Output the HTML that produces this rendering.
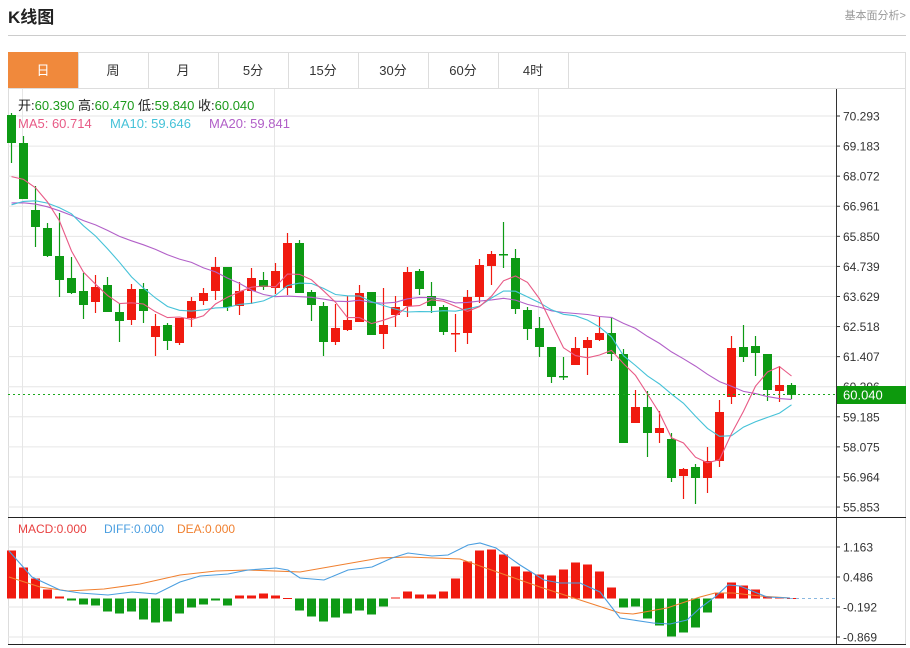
<!DOCTYPE html>
<html><head><meta charset="utf-8"><style>
html,body{margin:0;padding:0;background:#fff;width:910px;height:648px;overflow:hidden;font-family:"Liberation Sans","Noto Sans CJK SC",sans-serif;}
svg{position:absolute;left:0;top:0}
</style></head><body>
<svg id="s" width="910" height="648" xmlns="http://www.w3.org/2000/svg" font-family="Liberation Sans, Noto Sans CJK SC, sans-serif">
<text x="8" y="23" font-size="17" font-weight="bold" fill="#222">K线图</text>
<text x="906" y="19" font-size="11" fill="#999" text-anchor="end">基本面分析&gt;</text>
<line x1="8" y1="35.5" x2="906" y2="35.5" stroke="#ccc"/>
<rect x="8.5" y="52.5" width="897" height="592" fill="none" stroke="#ddd"/>
<rect x="8" y="52" width="70" height="36" fill="#f0893c"/>
<g id="tabs"></g>
<line x1="8" y1="88.5" x2="906" y2="88.5" stroke="#ddd"/>
<g id="g"></g>
</svg>
<script>
var NS="http://www.w3.org/2000/svg",G=document.getElementById('g'),T=document.getElementById('tabs');
function el(p,n,a,t){var e=document.createElementNS(NS,n);for(var k in a)e.setAttribute(k,a[k]);if(t!=null)e.textContent=t;p.appendChild(e);return e;}
var tabs=["日","周","月","5分","15分","30分","60分","4时"];
tabs.forEach(function(t,i){var x=8+70*i;el(T,'text',{x:x+35,y:75,'font-size':13,'text-anchor':'middle',fill:i?'#333':'#fff'},t);el(T,'line',{x1:x+70.5,y1:52,x2:x+70.5,y2:88,stroke:'#ddd'});});
// grids
var pl=["70.293","69.183","68.072","66.961","65.850","64.739","63.629","62.518","61.407","60.296","59.185","58.075","56.964","55.853"];
pl.forEach(function(l,i){var y=116+30.08*i;el(G,'line',{x1:8,y1:y,x2:836,y2:y,stroke:'#e6e6e6'});el(G,'line',{x1:836,y1:y,x2:840,y2:y,stroke:'#333'});el(G,'text',{x:843,y:y+4.5,'font-size':12,fill:'#333'},l);});
var ml=[["1.163",547],["0.486",577],["-0.192",607],["-0.869",637]];
ml.forEach(function(m){el(G,'line',{x1:8,y1:m[1],x2:836,y2:m[1],stroke:'#e6e6e6'});el(G,'line',{x1:836,y1:m[1],x2:840,y2:m[1],stroke:'#333'});el(G,'text',{x:843,y:m[1]+4.5,'font-size':12,fill:'#333'},m[0]);});
[22,274,538].forEach(function(x){el(G,'line',{x1:x+.5,y1:89,x2:x+.5,y2:645,stroke:'#e6e6e6'});});
// candles [type,o,c,h,l] in pixel y: g => top=open,bottom=close
var C=[
['g',115,143,113,163],['g',143,199,136,199],['g',210,227,186,247],['g',228,256,223,257],['g',256,280,213,297],['g',278,293,257,294],['g',291,305,273,319],['r',302,287,275,313],['g',285,312,277,312],['g',312,321,303,342],
['r',320,289,284,325],['g',289,311,283,323],['r',337,326,314,356],['g',325,341,323,350],['r',343,318,318,345],['r',318,301,297,327],['r',301,293,288,305],['r',291,267,257,300],['g',267,307,267,311],['r',306,291,282,315],
['r',291,278,268,304],['g',280,287,272,290],['r',288,271,263,294],['r',288,243,233,295],['g',243,293,240,293],['g',292,305,290,321],['g',306,342,302,356],['r',342,328,304,345],['r',330,320,296,331],['r',322,293,285,322],
['g',292,335,292,335],['r',334,325,288,349],['r',315,307,296,327],['r',306,272,267,317],['g',271,289,269,295],['g',296,306,282,313],['g',307,332,305,335],['r',334,333,314,352],['r',333,297,290,344],['r',297,265,259,303],
['r',266,254,251,285],['g',254,255,222,268],['g',258,309,249,314],['g',310,329,307,340],['g',328,347,317,357],['g',347,377,347,383],['g',376,377,357,380],['r',365,348,337,365],['r',348,340,337,375],['r',340,333,317,341],
['g',333,354,317,361],['g',354,443,349,443],['r',423,407,390,423],['g',407,433,391,457],['r',433,428,411,443],['g',439,478,433,482],['r',476,469,468,499],['g',467,478,464,504],['r',478,461,447,493],['r',461,412,400,467],
['r',397,348,336,404],['g',347,357,325,362],['g',346,353,336,376],['g',354,390,354,401],['r',391,385,366,402],['g',385,395,383,399]];
var RED='#f01a0f',GRN='#0d9a14';
function cx(i){return 11.5+12*i;}
C.forEach(function(c,i){var x=cx(i),col=c[0]=='r'?RED:GRN,t=Math.min(c[1],c[2]),b=Math.max(c[1],c[2]);
el(G,'line',{x1:x,y1:c[3],x2:x,y2:c[4],stroke:col,'stroke-width':1.2});
el(G,'rect',{x:x-4.5,y:t,width:9,height:Math.max(b-t,1.5),fill:col});});
// MAs
var cl=C.map(function(c){return c[2];});
var pad=[];for(var k=0;k<10;k++)pad.push(201);for(k=0;k<5;k++)pad.push(233);for(k=0;k<4;k++)pad.push(185);
var all=pad.concat(cl);
function ma(n,col){var pts=[];for(var i=0;i<C.length;i++){var s=0;for(var j=0;j<n;j++)s+=all[19+i-j];pts.push(cx(i)+','+(s/n).toFixed(1));}
el(G,'polyline',{points:pts.join(' '),fill:'none',stroke:col,'stroke-width':1.1});}
ma(20,'#b260c8');ma(10,'#45c2d8');ma(5,'#e85a86');
// current price line
el(G,'line',{x1:8,y1:394.5,x2:836,y2:394.5,stroke:'#1aa81a','stroke-dasharray':'2,3'});
el(G,'rect',{x:837,y:386,width:69,height:18,fill:'#0d9a0d'});
el(G,'text',{x:843,y:399.5,'font-size':13,fill:'#fff'},'60.040');
// MACD bars
var M=[48,31,20,9,2,-2,-6,-7,-13,-15,-13,-21,-24,-23,-15,-9,-6,-2,-7,3,3,5,3,0,-12,-18,-23,-19,-15,-12,-16,-8,1,7,4,4,7,20,37,48,49,44,32,27,24,23,29,36,34,27,11,-9,-8,-20,-27,-38,-34,-29,-14,5,16,13,9,2,1,0.5];
var Z=598.5;
M.forEach(function(v,i){var x=cx(i);if(Math.abs(v)<0.8){el(G,'line',{x1:x-4.5,y1:Z,x2:x+4.5,y2:Z,stroke:v>=0?RED:GRN});return;}
el(G,'rect',{x:x-4.5,y:v>0?Z-v:Z,width:9,height:Math.abs(v),fill:v>0?RED:GRN});});
el(G,'line',{x1:790,y1:Z,x2:836,y2:Z,stroke:'#8ab8e0','stroke-dasharray':'3,3'});
var D=[[9,551],[32,577],[60,590],[80,593],[108,595],[132,592],[156,594],[180,582],[200,576],[228,574],[248,570],[276,568],[288,570],[300,578],[324,580],[348,570],[372,567],[392,558],[408,553],[432,556],[448,555],[468,545],[480,543],[496,548],[520,565],[544,580],[560,583],[580,583],[600,592],[620,618],[633,620],[653,623],[670,624],[687,620],[700,608],[715,597],[728,585],[740,586],[757,593],[767,597],[790,598]];
var E=[[9,577],[40,587],[68,591],[104,589],[140,584],[180,575],[216,571],[248,570],[300,572],[340,565],[380,558],[408,557],[460,559],[500,573],[540,587],[580,600],[620,613],[633,614],[667,608],[700,597],[715,593],[733,593],[760,596],[790,598]];
el(G,'polyline',{points:E.join(' '),fill:'none',stroke:'#f08030','stroke-width':1.1});
el(G,'polyline',{points:D.join(' '),fill:'none',stroke:'#4a9ee0','stroke-width':1.1});
// frames
el(G,'line',{x1:836.5,y1:89,x2:836.5,y2:645,stroke:'#333'});
el(G,'line',{x1:8,y1:517.5,x2:906,y2:517.5,stroke:'#222'});
el(G,'line',{x1:8,y1:644.5,x2:906,y2:644.5,stroke:'#222'});
// legend
var lg=el(G,'text',{x:18,y:110,'font-size':13});
[['开:','#222'],['60.390  ','#1a9a1a'],[' 高:','#222'],['60.470  ','#1a9a1a'],[' 低:','#222'],['59.840  ','#1a9a1a'],[' 收:','#222'],['60.040','#1a9a1a']].forEach(function(p){el(lg,'tspan',{fill:p[1]},p[0]);});
lg.setAttribute('xml:space','preserve');
el(G,'text',{x:18,y:128,'font-size':13,fill:'#e85a86'},'MA5: 60.714');
el(G,'text',{x:110,y:128,'font-size':13,fill:'#45c2d8'},'MA10: 59.646');
el(G,'text',{x:209,y:128,'font-size':13,fill:'#b260c8'},'MA20: 59.841');
el(G,'text',{x:18,y:533,'font-size':12,fill:'#e84040'},'MACD:0.000');
el(G,'text',{x:104,y:533,'font-size':12,fill:'#4a9ee0'},'DIFF:0.000');
el(G,'text',{x:177,y:533,'font-size':12,fill:'#f08030'},'DEA:0.000');
</script>
</body></html>
